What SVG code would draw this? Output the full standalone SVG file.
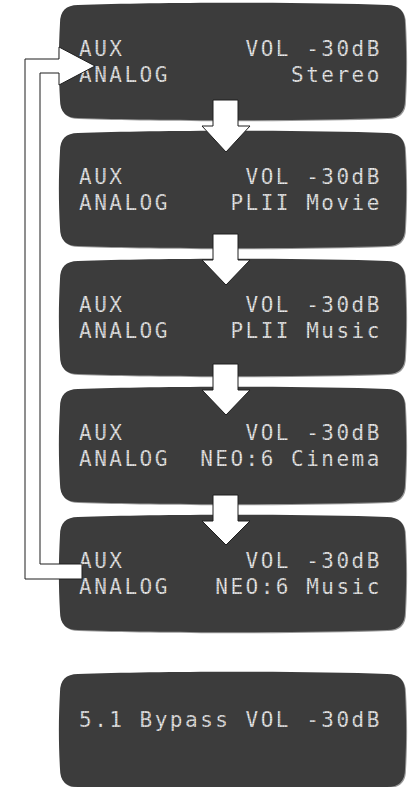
<svg xmlns="http://www.w3.org/2000/svg" width="411" height="787" viewBox="0 0 411 787">
<style>
.scr{fill:#3c3c3c;}
.sh{fill:#9a9a9a;}
.lcd{font-family:"DejaVu Sans Mono","Liberation Mono",monospace;font-size:21px;letter-spacing:2.5px;fill:url(#dots);white-space:pre;}
.arr{fill:#ffffff;stroke:#1e1e1e;stroke-width:1;stroke-linejoin:miter;}
</style>
<defs>
<pattern id="dots" width="2.5" height="2.5" patternUnits="userSpaceOnUse">
<rect width="2.5" height="2.5" fill="#9c9c9c"/>
<rect width="2" height="2" fill="#eeeeee"/>
</pattern>
<path id="box" d="M18,0 C100,-3 245,-3 327,0 Q345,0 345,18 C346.5,45 346.5,68 345,95 Q345,113 327,113 C245,116 100,116 18,113 Q0,113 0,95 C-1.5,68 -1.5,45 0,18 Q0,0 18,0 Z"/>
</defs>
<rect width="411" height="787" fill="#ffffff"/>
<g id="node-stereo" transform="translate(60,5)">
<use href="#box" class="sh" x="1" y="1"/><use href="#box" class="scr"/>
<text class="lcd" x="19" y="50.5" xml:space="preserve">AUX        VOL -30dB</text>
<text class="lcd" x="19" y="77" xml:space="preserve">ANALOG        Stereo</text>
</g>
<g id="node-plii-movie" transform="translate(60,133)">
<use href="#box" class="sh" x="1" y="1"/><use href="#box" class="scr"/>
<text class="lcd" x="19" y="50.5" xml:space="preserve">AUX        VOL -30dB</text>
<text class="lcd" x="19" y="77" xml:space="preserve">ANALOG    PLII Movie</text>
</g>
<g id="node-plii-music" transform="translate(60,261)">
<use href="#box" class="sh" x="1" y="1"/><use href="#box" class="scr"/>
<text class="lcd" x="19" y="50.5" xml:space="preserve">AUX        VOL -30dB</text>
<text class="lcd" x="19" y="77" xml:space="preserve">ANALOG    PLII Music</text>
</g>
<g id="node-neo6-cinema" transform="translate(60,389)">
<use href="#box" class="sh" x="1" y="1"/><use href="#box" class="scr"/>
<text class="lcd" x="19" y="50.5" xml:space="preserve">AUX        VOL -30dB</text>
<text class="lcd" x="19" y="77" xml:space="preserve">ANALOG  NEO:6 Cinema</text>
</g>
<g id="node-neo6-music" transform="translate(60,517)">
<use href="#box" class="sh" x="1" y="1"/><use href="#box" class="scr"/>
<text class="lcd" x="19" y="50.5" xml:space="preserve">AUX        VOL -30dB</text>
<text class="lcd" x="19" y="77" xml:space="preserve">ANALOG   NEO:6 Music</text>
</g>
<g id="node-bypass" transform="translate(60,674)">
<use href="#box" class="sh" x="1" y="1"/><use href="#box" class="scr"/>
<text class="lcd" x="19" y="53" xml:space="preserve">5.1 Bypass VOL -30dB</text>
</g>
<g id="connectors">
<path class="arr" d="M213,100 L238,100 L238,126 L250,126 L226,152 L202,126 L213,126 Z"/>
<path class="arr" d="M213,234 L238,234 L238,260 L250,260 L226,285 L202,260 L213,260 Z"/>
<path class="arr" d="M213,364 L238,364 L238,390 L250,390 L226,415 L202,390 L213,390 Z"/>
<path class="arr" d="M213,495 L238,495 L238,521 L250,521 L226,545 L202,521 L213,521 Z"/>
<path class="arr" d="M82,564 L40,564 L40,73 L59,73 L59,85 L95,66 L59,47 L59,59 L25,59 L25,579 L82,579 Z"/>
</g>
</svg>
